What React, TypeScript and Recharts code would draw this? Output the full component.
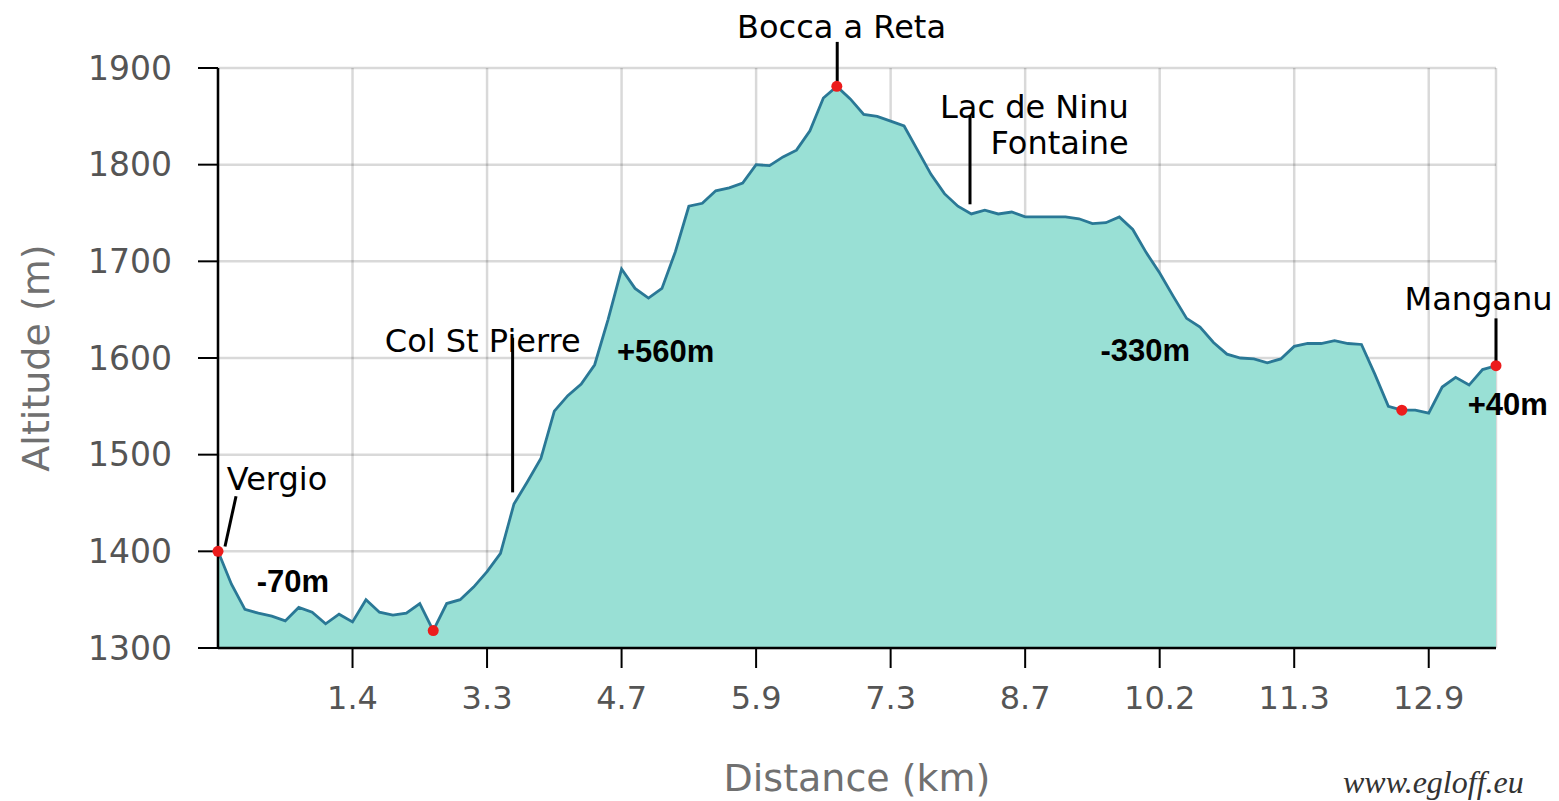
import React from 'react';
import {
  ComposedChart,
  Area,
  XAxis,
  YAxis,
  CartesianGrid,
  ReferenceLine,
  ReferenceDot,
} from 'recharts';

// Altitude (m) sampled at evenly spaced profile points (index 0..95)
const altitude: number[] = [
  1400, 1366, 1340, 1336, 1333, 1328, 1342, 1337, 1325, 1335,
  1327, 1350, 1337, 1334, 1336, 1346, 1318, 1346, 1350, 1363,
  1379, 1398, 1449, 1472, 1496, 1545, 1561, 1573, 1593, 1640,
  1692, 1672, 1662, 1672, 1710, 1757, 1760, 1773, 1776, 1781,
  1800, 1799, 1808, 1815, 1835, 1869, 1881, 1868, 1852, 1850,
  1845, 1840, 1815, 1790, 1770, 1757, 1749, 1753, 1749, 1751,
  1746, 1746, 1746, 1746, 1744, 1739, 1740, 1746, 1733, 1709,
  1688, 1664, 1641, 1632, 1616, 1604, 1600, 1599, 1595, 1599,
  1612, 1615, 1615, 1618, 1615, 1614, 1583, 1550, 1546, 1546,
  1543, 1570, 1580, 1572, 1588, 1592,
];

// Indices of marked waypoints (red dots)
const markedPoints: number[] = [0, 16, 46, 88, 95];

// Distance tick positions (point index) and their labels (km)
const distanceTickIndex: number[] = [10, 20, 30, 40, 50, 60, 70, 80, 90];
const distanceTickLabels: string[] = ['1.4', '3.3', '4.7', '5.9', '7.3', '8.7', '10.2', '11.3', '12.9'];

const altitudeTicks: number[] = [1300, 1400, 1500, 1600, 1700, 1800, 1900];

// Place names, anchored in data coordinates (point index, altitude)
const placeNames = [
  { text: 'Vergio', x: 0.65, y: 1463, anchor: 'start' },
  { text: 'Col St Pierre', x: 19.68, y: 1606, anchor: 'middle' },
  { text: 'Bocca a Reta', x: 46.35, y: 1931, anchor: 'middle' },
  { text: 'Lac de Ninu', x: 67.7, y: 1848, anchor: 'end' },
  { text: 'Fontaine', x: 67.7, y: 1811, anchor: 'end' },
  { text: 'Manganu', x: 88.2, y: 1650, anchor: 'start' },
];

// Elevation change labels
const elevationChanges = [
  { text: '-70m', x: 2.88, y: 1358 },
  { text: '+560m', x: 29.66, y: 1596 },
  { text: '-330m', x: 65.6, y: 1597 },
  { text: '+40m', x: 92.9, y: 1541 },
];

// Pointer segments from labels to the profile
const pointers = [
  { x1: 0.52, y1: 1405, x2: 1.34, y2: 1457 },
  { x1: 21.9, y1: 1461, x2: 21.9, y2: 1621 },
  { x1: 46.03, y1: 1886, x2: 46.03, y2: 1927 },
  { x1: 55.9, y1: 1759, x2: 55.9, y2: 1851 },
  { x1: 95, y1: 1592, x2: 95, y2: 1641 },
];

const data = altitude.map((alt, i) => ({ i, alt }));

const renderDot = (props: any) => {
  const { cx, cy, index } = props;
  if (!markedPoints.includes(index)) return <g key={`d${index}`} />;
  return <circle key={`d${index}`} cx={cx} cy={cy} r={5.5} fill="#ec1c1c" />;
};

const makeLabel = (text: string, anchor: string, bold: boolean) => (props: any) => {
  const vb = props.viewBox || {};
  return (
    <text
      x={vb.x}
      y={vb.y}
      textAnchor={anchor}
      fontFamily={bold ? 'Liberation Sans, Arial, sans-serif' : 'DejaVu Sans, Verdana, sans-serif'}
      fontWeight={bold ? 'bold' : 'normal'}
      fontSize={bold ? 31 : 32}
      fill="#000"
    >
      {text}
    </text>
  );
};

const YTitle = (props: any) => {
  const vb = props.viewBox || { x: 0, y: 68, height: 580 };
  const cx = vb.x + 36;
  const cy = vb.y + vb.height / 2;
  return (
    <text
      x={cx}
      y={cy}
      transform={`rotate(-90 ${cx} ${cy})`}
      textAnchor="middle"
      dominantBaseline="central"
      fontFamily="DejaVu Sans, Verdana, sans-serif"
      fontSize={38}
      fill="#707070"
    >
      Altitude (m)
    </text>
  );
};

const XTitle = (props: any) => {
  const vb = props.viewBox || { x: 218, y: 648, width: 1278 };
  return (
    <text
      x={vb.x + vb.width / 2}
      y={vb.y + 143}
      textAnchor="middle"
      fontFamily="DejaVu Sans, Verdana, sans-serif"
      fontSize={38}
      fill="#707070"
    >
      Distance (km)
    </text>
  );
};

export default function App() {
  return (
    <div style={{ position: 'fixed', left: 0, top: 0, width: 1559, height: 801, background: '#fff' }}>
      <ComposedChart
        width={1559}
        height={801}
        data={data}
        margin={{ top: 68, right: 63, bottom: 3, left: 0 }}
      >
        <XAxis
          type="number"
          dataKey="i"
          domain={[0, 95]}
          ticks={distanceTickIndex}
          tickFormatter={(v: number) => distanceTickLabels[distanceTickIndex.indexOf(v)] ?? ''}
          height={150}
          tickSize={20}
          tickMargin={18}
          axisLine={{ stroke: '#000', strokeWidth: 2.5 }}
          tickLine={{ stroke: '#000', strokeWidth: 2 }}
          tick={{ fill: '#555', fontSize: 32, fontFamily: 'DejaVu Sans, Verdana, sans-serif' }}
          label={{ content: XTitle }}
          interval={0}
        />
        <YAxis
          type="number"
          domain={[1300, 1900]}
          ticks={altitudeTicks}
          width={218}
          tickSize={20}
          tickMargin={26}
          axisLine={{ stroke: '#000', strokeWidth: 2.5 }}
          tickLine={{ stroke: '#000', strokeWidth: 2 }}
          tick={{ fill: '#555', fontSize: 33, fontFamily: 'DejaVu Sans, Verdana, sans-serif' }}
          label={{ content: YTitle }}
          interval={0}
        />
        <Area
          type="linear"
          dataKey="alt"
          stroke="#2a7896"
          strokeWidth={2.8}
          fill="#99e0d5"
          fillOpacity={1}
          dot={renderDot}
          activeDot={false}
          isAnimationActive={false}
        />
        <CartesianGrid stroke="#000" strokeOpacity={0.15} strokeWidth={2.5} />
        {pointers.map((p, k) => (
          <ReferenceLine
            key={`p${k}`}
            segment={[{ x: p.x1, y: p.y1 }, { x: p.x2, y: p.y2 }]}
            stroke="#000"
            strokeWidth={3}
            ifOverflow="visible"
          />
        ))}
        {placeNames.map((p, k) => (
          <ReferenceDot
            key={`n${k}`}
            x={p.x}
            y={p.y}
            r={0}
            fill="none"
            stroke="none"
            ifOverflow="visible"
            label={makeLabel(p.text, p.anchor, false)}
          />
        ))}
        {elevationChanges.map((p, k) => (
          <ReferenceDot
            key={`e${k}`}
            x={p.x}
            y={p.y}
            r={0}
            fill="none"
            stroke="none"
            ifOverflow="visible"
            label={makeLabel(p.text, 'start', true)}
          />
        ))}
      </ComposedChart>
      <div
        style={{
          position: 'absolute',
          left: 1343,
          top: 767,
          fontFamily: 'Liberation Serif, serif',
          fontStyle: 'italic',
          fontSize: 32,
          color: '#333',
          lineHeight: '30px',
          whiteSpace: 'nowrap',
        }}
      >
        www.egloff.eu
      </div>
    </div>
  );
}
